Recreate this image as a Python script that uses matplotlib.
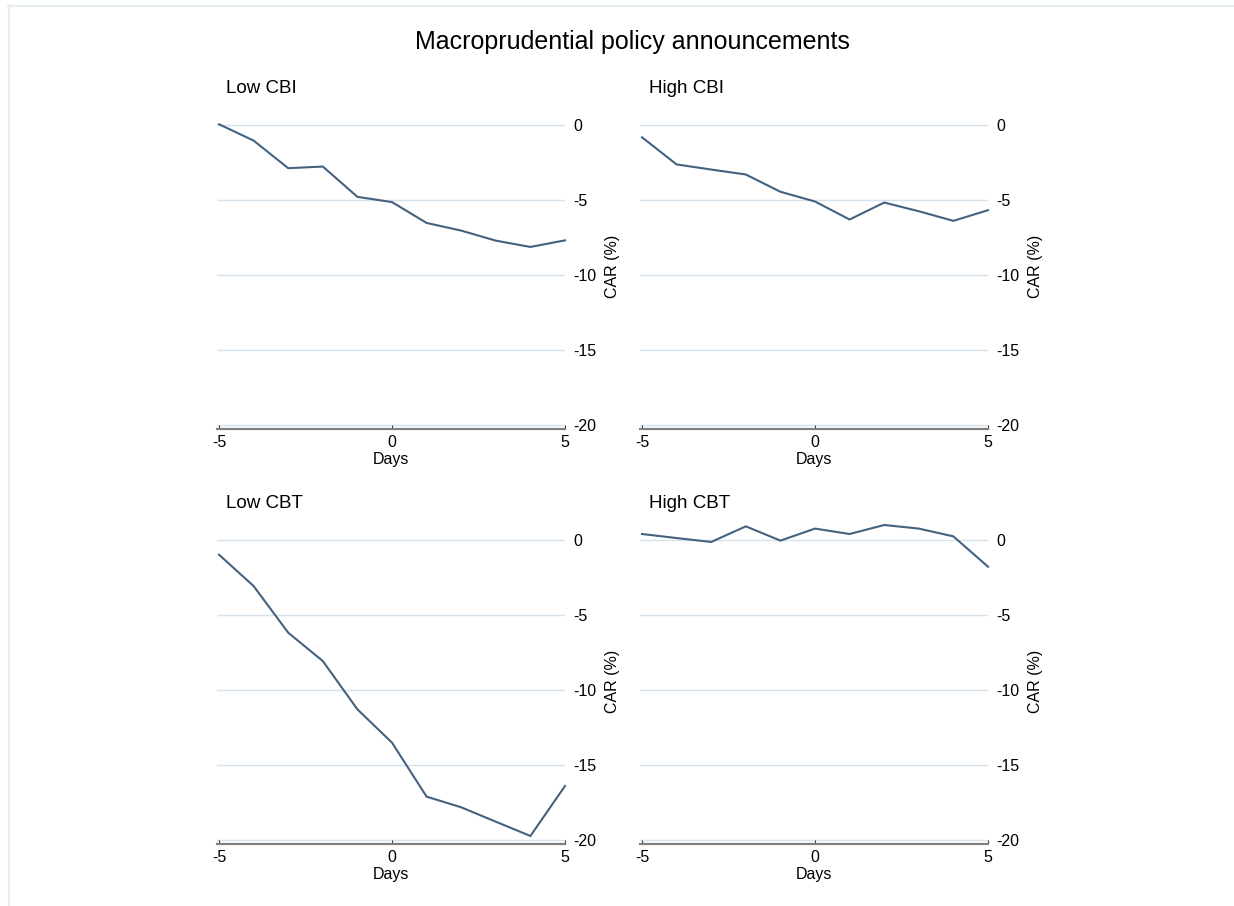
import numpy as np
import matplotlib.pyplot as plt
from matplotlib.lines import Line2D

plt.rcParams['font.family'] = ['Liberation Sans', 'DejaVu Sans']

# event window (days around announcement)
days = [-5, -4, -3, -2, -1, 0, 1, 2, 3, 4, 5]

# cumulative abnormal returns (%) by group
car_low_cbi = [0.05, -1.04, -2.88, -2.77, -4.79, -5.14, -6.53, -7.04, -7.71, -8.13, -7.69]
car_high_cbi = [-0.82, -2.63, -2.97, -3.30, -4.45, -5.10, -6.30, -5.17, -5.75, -6.39, -5.68]
car_low_cbt = [-0.98, -3.07, -6.18, -8.07, -11.29, -13.51, -17.11, -17.82, -18.78, -19.73, -16.40]
car_high_cbt = [0.40, 0.13, -0.13, 0.91, -0.04, 0.76, 0.40, 1.00, 0.76, 0.24, -1.78]

panels = [
    ('Low CBI', car_low_cbi),
    ('High CBI', car_high_cbi),
    ('Low CBT', car_low_cbt),
    ('High CBT', car_high_cbt),
]

yticks = [0, -5, -10, -15, -20]
xticks = [-5, 0, 5]

W, H = 1234, 906
fig = plt.figure(figsize=(W / 100, H / 100), dpi=100)

# light outer frame (top and left edges)
fig.add_artist(Line2D([8 / W, 1], [1 - 5.5 / H, 1 - 5.5 / H], transform=fig.transFigure,
                      color='#e6edf3', lw=1.6))
fig.add_artist(Line2D([9 / W, 9 / W], [0, 1 - 5.5 / H], transform=fig.transFigure,
                      color='#e6edf3', lw=1.6))

fig.text(632 / W, 1 - 42.5 / H, 'Macroprudential policy announcements',
         ha='center', va='center', fontsize=18)

lefts = [216.6, 639.6]
bottoms = [427.25, 842.25]
ax_w, ax_h = 348.4, 332.25

line_color = '#44627f'
grid_color = '#d6e3ec'

for i, (name, vals) in enumerate(panels):
    row, col = divmod(i, 2)
    ax = fig.add_axes([lefts[col] / W, 1 - bottoms[row] / H, ax_w / W, ax_h / H])
    ax.set_xlim(-5.07, 5)
    ax.set_ylim(-20.15, 2)

    for yv in yticks:
        ax.axhline(yv, color=grid_color, lw=1.0, zorder=1)
    ax.plot(days, vals, color=line_color, lw=1.5, zorder=3, clip_on=False,
            solid_joinstyle='miter')

    for s in ['top', 'left', 'right']:
        ax.spines[s].set_visible(False)
    ax.spines['bottom'].set_color('#808080')
    ax.spines['bottom'].set_linewidth(1.6)
    ax.spines['bottom'].set_position(('outward', 1))

    ax.yaxis.tick_right()
    ax.set_yticks(yticks)
    ax.set_yticklabels([str(v) for v in yticks])
    ax.tick_params(axis='y', length=0, pad=6, labelsize=11.5)

    ax.set_xticks(xticks)
    ax.set_xticklabels([str(v) for v in xticks])
    ax.tick_params(axis='x', direction='in', length=3, width=0.8, color='#333333',
                   pad=4.5, labelsize=11.5)
    ax.set_xlabel('Days', fontsize=11.5, labelpad=1.5)

    ax.text(1.137, 0.485, 'CAR (%)', transform=ax.transAxes, rotation=90,
            ha='center', va='center', fontsize=11.5)
    ax.text(0.027, 1.019, name, transform=ax.transAxes, ha='left', va='center',
            fontsize=13.5)
    ax.set_facecolor('white')

fig.savefig('out.png', dpi=100, facecolor='white')
